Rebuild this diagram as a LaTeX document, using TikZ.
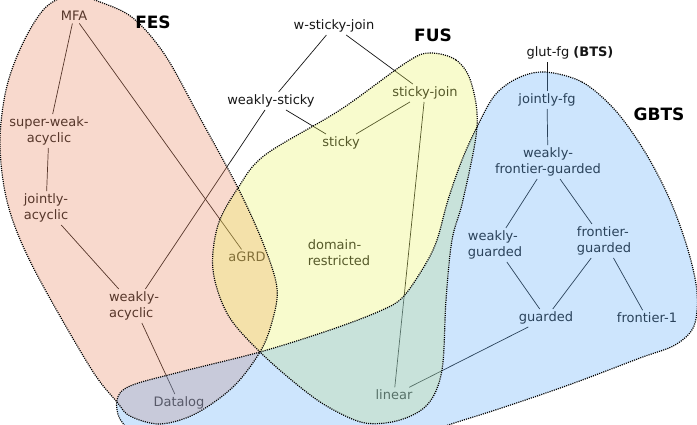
\documentclass[tikz,border=0pt]{standalone}
\usepackage{fontspec}
\setmainfont{DejaVu Sans}
\begin{document}
\begin{tikzpicture}[x=1pt,y=-1pt,
  lbl/.style={text=txt, inner sep=2.5pt, align=center, font=\fontsize{13}{16}\selectfont},
  big/.style={text=black, inner sep=1pt, font=\fontsize{17}{20}\selectfont\bfseries},
  edge/.style={draw=txt, line width=0.7pt},
  blobfill/.style={fill opacity=0.3, draw=none},
  blobline/.style={draw=black, line width=1.2pt, dash pattern=on 1.1pt off 1.1pt}]
\definecolor{txt}{RGB}{22,22,22}
\definecolor{fescol}{RGB}{235,130,90}
\definecolor{fuscol}{RGB}{235,245,90}
\definecolor{gbtscol}{RGB}{90,170,250}
\clip (0,0) rectangle (697,424);
\fill[white] (0,0) rectangle (697,424);
% nodes
\node[lbl] (mfa) at (74,16) {MFA};
\node[lbl] (swa) at (49,131) {super-weak-\\acyclic};
\node[lbl] (ja) at (46,208) {jointly-\\acyclic};
\node[lbl, align=left] (wa) at (134,306) {weakly-\\acyclic};
\node[lbl] (dl) at (179,403) {Datalog};
\node[lbl] (agrd) at (247,257) {aGRD};
\node[lbl] (wsj) at (334,26) {w-sticky-join};
\node[lbl] (ws) at (271,101) {weakly-sticky};
\node[lbl] (st) at (341,143) {sticky};
\node[lbl] (sj) at (425,93) {sticky-join};
\node[lbl, align=left] (dr) at (339,253) {domain-\\restricted};
\node[lbl] (lin) at (394,395) {linear};
\node[lbl] (glut) at (570,53) {glut-fg \textbf{(BTS)}};
\node[lbl] (jfg) at (547,100) {jointly-fg};
\node[lbl] (wfg) at (548,162) {weakly-\\frontier-guarded};
\node[lbl, align=left] (wg) at (495,245) {weakly-\\guarded};
\node[lbl, align=left] (fg) at (604,241) {frontier-\\guarded};
\node[lbl] (g) at (546,318) {guarded};
\node[lbl] (f1) at (647,318) {frontier-1};
% edges
\draw[edge] (mfa) -- (swa);
\draw[edge] (mfa) -- (agrd);
\draw[edge] (swa) -- (ja);
\draw[edge] (ja) -- (wa);
\draw[edge] (wa) -- (dl);
\draw[edge] (wa) -- (ws);
\draw[edge] (wsj) -- (ws);
\draw[edge] (wsj) -- (sj);
\draw[edge] (ws) -- (st);
\draw[edge] (sj) -- (st);
\draw[edge] (sj) -- (lin);
\draw[edge] (lin) -- (g);
\draw[edge] (jfg) -- (jfg |- glut.south);
\draw[edge] (jfg) -- (wfg);
\draw[edge] (wfg) -- (wg);
\draw[edge] (wfg) -- (fg);
\draw[edge] (wg) -- (g);
\draw[edge] (fg) -- (g);
\draw[edge] (fg) -- (f1);
% blobs
\def\fespath{plot[smooth cycle, tension=0.55] coordinates {(72,-5) (100,2) (133,18) (165,55) (200,118) (238,188) (263,243) (277,288) (272,322) (260,352) (233,387) (195,414) (160,424) (130,416) (117,402) (90,367) (33,267) (8,205) (0,145) (6,90) (22,45) (45,8)}}
\def\fuspath{plot[smooth cycle, tension=0.55] coordinates {(430,53) (456,60) (471,82) (477,127) (463,200) (452,240) (446,300) (442,370) (428,404) (400,420) (365,423) (330,408) (300,387) (260,352) (228,315) (213,270) (218,225) (238,188) (265,155) (340,110) (407,62)}}
\def\gbtspath{plot[smooth cycle, tension=0.55] coordinates {(545,72) (582,82) (615,110) (645,152) (670,200) (688,250) (697,292) (694,326) (675,345) (640,358) (563,387) (470,418) (400,436) (260,444) (150,440) (122,422) (117,400) (130,386) (180,372) (260,352) (330,330) (380,311) (403,297) (425,265) (437,240) (448,200) (462,160) (477,127) (495,95) (518,78)}}
\fill[fescol, blobfill] \fespath;
\fill[fuscol, blobfill] \fuspath;
\fill[gbtscol, blobfill] \gbtspath;
\draw[blobline] \fespath;
\draw[blobline] \fuspath;
\draw[blobline] \gbtspath;
% big labels
\node[big] (fesl) at (153,22) {FES};
\node[big] (fusl) at (433,35) {FUS};
\node[big] (gbtsl) at (659,114) {GBTS};
\end{tikzpicture}
\end{document}
